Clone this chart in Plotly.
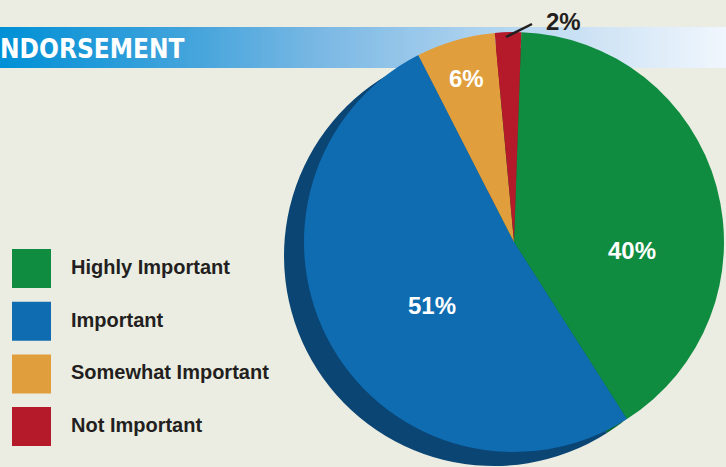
import plotly.graph_objects as go

# ---- data ----
categories = ["Highly Important", "Important", "Somewhat Important", "Not Important"]
shares = [40, 51, 6, 2]
title_text = "NDORSEMENT"

# ---- styling ----
W, H = 726, 467
BG = "#ecede2"
face_colors = ["#0f8c3f", "#0f6cb1", "#e09e3c", "#b41a2a"]
side_colors = ["#0b6a30", "#0a4574", "#a8742a", "#86131f"]
INK = "#231f20"


def px(x):
    return x / W


def py(y):
    return 1 - y / H


fig = go.Figure()

# extruded side of the pie (darker copy, shifted down-left)
cx, cy, r = 514, 242, 210
dx, dy = -20, 14
fig.add_trace(go.Pie(
    values=shares, labels=categories, sort=False, direction="clockwise",
    rotation=2, marker=dict(colors=side_colors, line=dict(width=0)),
    textinfo="none", hoverinfo="skip", showlegend=False,
    domain=dict(x=[px(cx + dx - r), px(cx + dx + r)],
                y=[py(cy + dy + r), py(cy + dy - r)]),
))

# top face of the pie
fig.add_trace(go.Pie(
    values=shares, labels=categories, sort=False, direction="clockwise",
    rotation=2, marker=dict(colors=face_colors, line=dict(width=0)),
    textinfo="none", hoverinfo="label+percent", showlegend=False,
    domain=dict(x=[px(cx - r), px(cx + r)],
                y=[py(cy + r), py(cy - r)]),
))

shapes = []

# title banner with a horizontal blue-to-white gradient
stops = [(0, (0x00, 0x90, 0xd6)), (200, (0x47, 0xa5, 0xdc)), (320, (0x7a, 0xb8, 0xe4)),
         (480, (0xad, 0xd2, 0xee)), (600, (0xd0, 0xe4, 0xf5)), (726, (0xf0, 0xf6, 0xfd))]


def grad(x):
    for (x0, c0), (x1, c1) in zip(stops, stops[1:]):
        if x <= x1:
            t = (x - x0) / (x1 - x0)
            return "rgb(%d,%d,%d)" % tuple(round(a + (b - a) * t) for a, b in zip(c0, c1))
    return "rgb(%d,%d,%d)" % stops[-1][1]


step = 3
for x in range(0, W, step):
    shapes.append(dict(type="rect", xref="paper", yref="paper", layer="below",
                       x0=px(x), x1=px(min(x + step + 0.5, W)), y0=py(68), y1=py(27),
                       fillcolor=grad(x + step / 2), line=dict(width=0)))

# legend swatches
for i, col in enumerate(face_colors):
    top = 249 + i * 52.7
    shapes.append(dict(type="rect", xref="paper", yref="paper",
                       x0=px(12), x1=px(51), y0=py(top + 39), y1=py(top),
                       fillcolor=col, line=dict(width=0)))

# leader line for the smallest slice
shapes.append(dict(type="line", xref="paper", yref="paper",
                   x0=px(506), y0=py(37), x1=px(532), y1=py(24),
                   line=dict(color=INK, width=2.5)))

annotations = [dict(text=title_text, x=px(-2), y=py(49), xref="paper", yref="paper",
                    xanchor="left", yanchor="middle", showarrow=False,
                    font=dict(family="Liberation Sans Narrow, DejaVu Sans Condensed, Arial Narrow, sans-serif",
                              size=26, color="white", weight="bold"))]

for i, name in enumerate(categories):
    annotations.append(dict(text=name, x=px(69), y=py(267 + i * 52.7), xref="paper", yref="paper",
                            xanchor="left", yanchor="middle", showarrow=False,
                            font=dict(family="Liberation Sans, Arial, sans-serif", size=20,
                                      color=INK, weight="bold")))

# percentage labels
label_pos = [(632, 251), (432, 305), (466, 79), (563, 21)]
label_col = ["white", "white", "white", INK]
for v, (lx, ly), lc in zip(shares, label_pos, label_col):
    annotations.append(dict(text=f"{v}%", x=px(lx), y=py(ly), xref="paper", yref="paper",
                            xanchor="center", yanchor="middle", showarrow=False,
                            font=dict(family="Liberation Sans, Arial, sans-serif", size=24,
                                      color=lc, weight="bold")))

fig.update_layout(
    width=W, height=H, margin=dict(l=0, r=0, t=0, b=0),
    paper_bgcolor=BG, plot_bgcolor=BG,
    shapes=shapes, annotations=annotations, showlegend=False,
)

fig.write_html("out.html")
